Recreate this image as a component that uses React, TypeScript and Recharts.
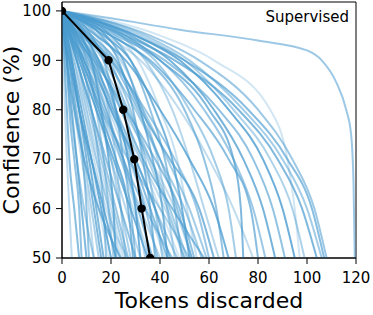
import { LineChart, Line, XAxis, YAxis, ReferenceArea } from "recharts";

const confidenceLevels = [100, 95, 90, 80, 70, 60, 50];

// tokens discarded when each example's confidence crosses the levels above
const exampleTokens: number[][] = [
  [0, 1, 2, 4, 6, 8, 10],
  [0, 1.5, 3, 6, 9, 12, 15],
  [0, 2, 4, 8, 12, 16, 20],
  [0, 2.5, 5, 10, 15, 20, 25],
  [0, 3, 6, 12, 18, 24, 30],
  [0, 3.5, 7, 14, 21, 28, 35],
  [0, 4, 8, 16, 24, 32, 40],
  [0, 0.5, 1, 2, 3, 5, 7],
  [0, 0.7, 1.5, 3.5, 6, 9, 13],
  [0, 1, 3, 7, 12, 17, 22],
  [0, 2, 5, 9, 13, 18, 27],
  [0, 1, 2, 5, 9, 15, 24],
  [0, 5, 8, 12, 15, 17, 18],
  [0, 6, 10, 14, 17, 19, 21],
  [0, 8, 12, 16, 19, 21, 22],
  [0, 10, 14, 19, 22, 24, 26],
  [0, 12, 17, 22, 25, 28, 30],
  [0, 9, 15, 22, 27, 30, 32],
  [0, 14, 20, 26, 30, 33, 35],
  [0, 16, 23, 29, 33, 36, 38],
  [0, 11, 19, 28, 34, 38, 41],
  [0, 18, 25, 32, 37, 41, 43],
  [0, 15, 24, 33, 39, 43, 46],
  [0, 20, 28, 36, 42, 46, 49],
  [0, 17, 28, 38, 45, 49, 52],
  [0, 22, 31, 40, 47, 51, 55],
  [0, 4, 9, 18, 25, 34, 45],
  [0, 6, 12, 20, 30, 38, 44],
  [0, 3, 8, 16, 27, 40, 52],
  [0, 7, 14, 24, 33, 45, 58],
  [0, 10, 18, 30, 40, 50, 57],
  [0, 5, 13, 26, 38, 48, 54],
  [0, 12, 22, 32, 44, 56, 62],
  [0, 8, 20, 34, 46, 55, 60],
  [0, 14, 26, 40, 52, 62, 68],
  [0, 24, 34, 45, 52, 58, 64],
  [0, 20, 35, 50, 58, 63, 66],
  [0, 24, 38, 52, 62, 68, 71],
  [0, 26, 40, 60, 70, 73, 74],
  [0, 18, 32, 48, 60, 70, 78],
  [0, 20, 36, 54, 68, 77, 80],
  [0, 22, 40, 58, 70, 78, 83],
  [0, 28, 44, 62, 74, 82, 87],
  [0, 24, 42, 64, 78, 86, 91],
  [0, 30, 48, 68, 82, 90, 95],
  [0, 32, 50, 70, 85, 94, 99],
  [0, 26, 46, 72, 88, 98, 104],
  [0, 34, 52, 74, 90, 100, 106],
  [0, 30, 50, 76, 92, 102, 107],
  [0, 36, 56, 80, 94, 103, 108],
  [0, 40, 62, 85, 92, 95, 97],
  [0, 1, 2, 3, 5, 7, 8],
  [0, 1.2, 2.5, 5, 8, 11, 13],
  [0, 1.8, 3.5, 7, 11, 14, 17],
  [0, 2.2, 4.5, 9, 14, 19, 23],
  [0, 2.8, 6, 12, 17, 22, 27],
  [0, 3, 7, 14, 20, 26, 32],
  [0, 4, 9, 17, 25, 31, 37],
  [0, 5, 10, 19, 27, 35, 42],
  [0, 6, 12, 22, 30, 38, 47],
  [0, 7, 15, 26, 35, 43, 50],
  [0, 0.3, 0.6, 1.2, 2, 3, 4],
  [0, 1.3, 2.8, 5.5, 8.5, 10, 11],
  [0, 2, 4, 7, 11, 15, 19],
  [0, 3, 6, 11, 16, 21, 26],
  [0, 3.5, 8, 15, 22, 27, 29],
  [0, 4.5, 9, 16, 22, 29, 36],
  [0, 5, 11, 20, 28, 34, 39],
  [0, 6, 11, 18, 24, 30, 34],
  [0, 7, 13, 21, 29, 36, 43],
  [0, 8, 15, 24, 32, 40, 48],
  [0, 9, 17, 27, 36, 44, 51],
  [0, 4, 10, 21, 32, 42, 50],
  [0, 10, 20, 31, 40, 47, 53],
  [0, 3, 6, 10, 14, 19, 24],
  [0, 5, 9, 15, 20, 24, 28],
  [0, 2, 4, 7, 10, 13, 16],
  [0, 6, 14, 25, 36, 46, 53],
  [0, 11, 21, 33, 43, 52, 59],
];

const exampleOpacity = [
  0.7, 0.45, 0.8, 0.3, 0.6, 0.75, 0.4, 0.65, 0.5, 0.8, 0.3, 0.7, 0.55, 0.45,
  0.75, 0.4, 0.6, 0.8, 0.25, 0.65, 0.5, 0.7, 0.4, 0.6, 0.75, 0.3, 0.55, 0.7,
  0.45, 0.65, 0.5, 0.6, 0.7, 0.55, 0.75, 0.4, 0.6, 0.5, 0.7, 0.35, 0.65, 0.55,
  0.75, 0.6, 0.8, 0.45, 0.7, 0.5, 0.65, 0.55, 0.25, 0.6, 0.35, 0.7, 0.3, 0.55,
  0.4, 0.65, 0.3, 0.5, 0.45, 0.35, 0.6, 0.25, 0.5, 0.7, 0.3, 0.55, 0.4, 0.65,
  0.25, 0.5, 0.35, 0.6, 0.3, 0.45, 0.7, 0.35, 0.5,
];

// the one example that stays confident almost to the end
const flatTokens = [0, 20, 48, 80, 100, 106, 112, 116, 118, 119, 119.5];
const flatConfidence = [100, 98.5, 96.2, 94, 92, 90, 85.5, 80, 75, 65, 50];

// average (black) curve
const meanTokens = [0, 19, 25, 29.5, 32.5, 36];
const meanConfidence = [100, 90, 80, 70, 60, 50];

const xTicks = [0, 20, 40, 60, 80, 100, 120];
const yTicks = [50, 60, 70, 80, 90, 100];

const curves = exampleTokens.map((row) =>
  row.map((x, i) => ({ x, y: confidenceLevels[i] }))
);
const flatCurve = flatTokens.map((x, i) => ({ x, y: flatConfidence[i] }));
const meanCurve = meanTokens.map((x, i) => ({ x, y: meanConfidence[i] }));

const font = "'DejaVu Sans', sans-serif";

export default function App() {
  return (
    <div style={{ position: "absolute", left: 0, top: 0, width: 373, height: 315, fontFamily: font }}>
      <LineChart width={373} height={315} margin={{ top: 2, right: 17, left: 0, bottom: 0 }}>
        <XAxis
          type="number"
          dataKey="x"
          domain={[0, 120]}
          ticks={xTicks}
          allowDataOverflow
          height={57}
          tickSize={6}
          tickMargin={8}
          tick={{ fill: "#000", fontSize: 15, fontFamily: font }}
          axisLine={{ stroke: "#000" }}
          tickLine={{ stroke: "#000" }}
          label={{ value: "Tokens discarded", position: "insideBottom", offset: 7, fontSize: 22, fill: "#000", fontFamily: font }}
        />
        <YAxis
          type="number"
          dataKey="y"
          domain={[50, 101.8]}
          ticks={yTicks}
          allowDataOverflow
          width={62}
          tickSize={6}
          tickMargin={5}
          tick={{ fill: "#000", fontSize: 15, fontFamily: font }}
          axisLine={{ stroke: "#000" }}
          tickLine={{ stroke: "#000" }}
          label={{
            value: "Confidence (%)",
            angle: -90,
            position: "insideLeft",
            offset: 11,
            fontSize: 22,
            fill: "#000",
            fontFamily: font,
            style: { textAnchor: "middle" },
          }}
        />
        {curves.map((data, i) => (
          <Line
            key={i}
            data={data}
            dataKey="y"
            type="monotone"
            stroke="#4a9bcf"
            strokeOpacity={exampleOpacity[i] ?? 0.5}
            strokeWidth={2}
            dot={false}
            isAnimationActive={false}
          />
        ))}
        <Line
          data={flatCurve}
          dataKey="y"
          type="monotone"
          stroke="#4a9bcf"
          strokeOpacity={0.55}
          strokeWidth={2}
          dot={false}
          isAnimationActive={false}
        />
        <Line
          data={meanCurve}
          dataKey="y"
          type="linear"
          stroke="#000"
          strokeWidth={2}
          dot={{ r: 3.2, fill: "#000", stroke: "#000" }}
          isAnimationActive={false}
        />
        <ReferenceArea x1={0} x2={120} y1={50} y2={101.8} fill="none" stroke="#000" strokeWidth={1} />
      </LineChart>
      <div style={{ position: "absolute", right: 24, top: 10, fontSize: 15, lineHeight: 1, color: "#000" }}>
        Supervised
      </div>
    </div>
  );
}
